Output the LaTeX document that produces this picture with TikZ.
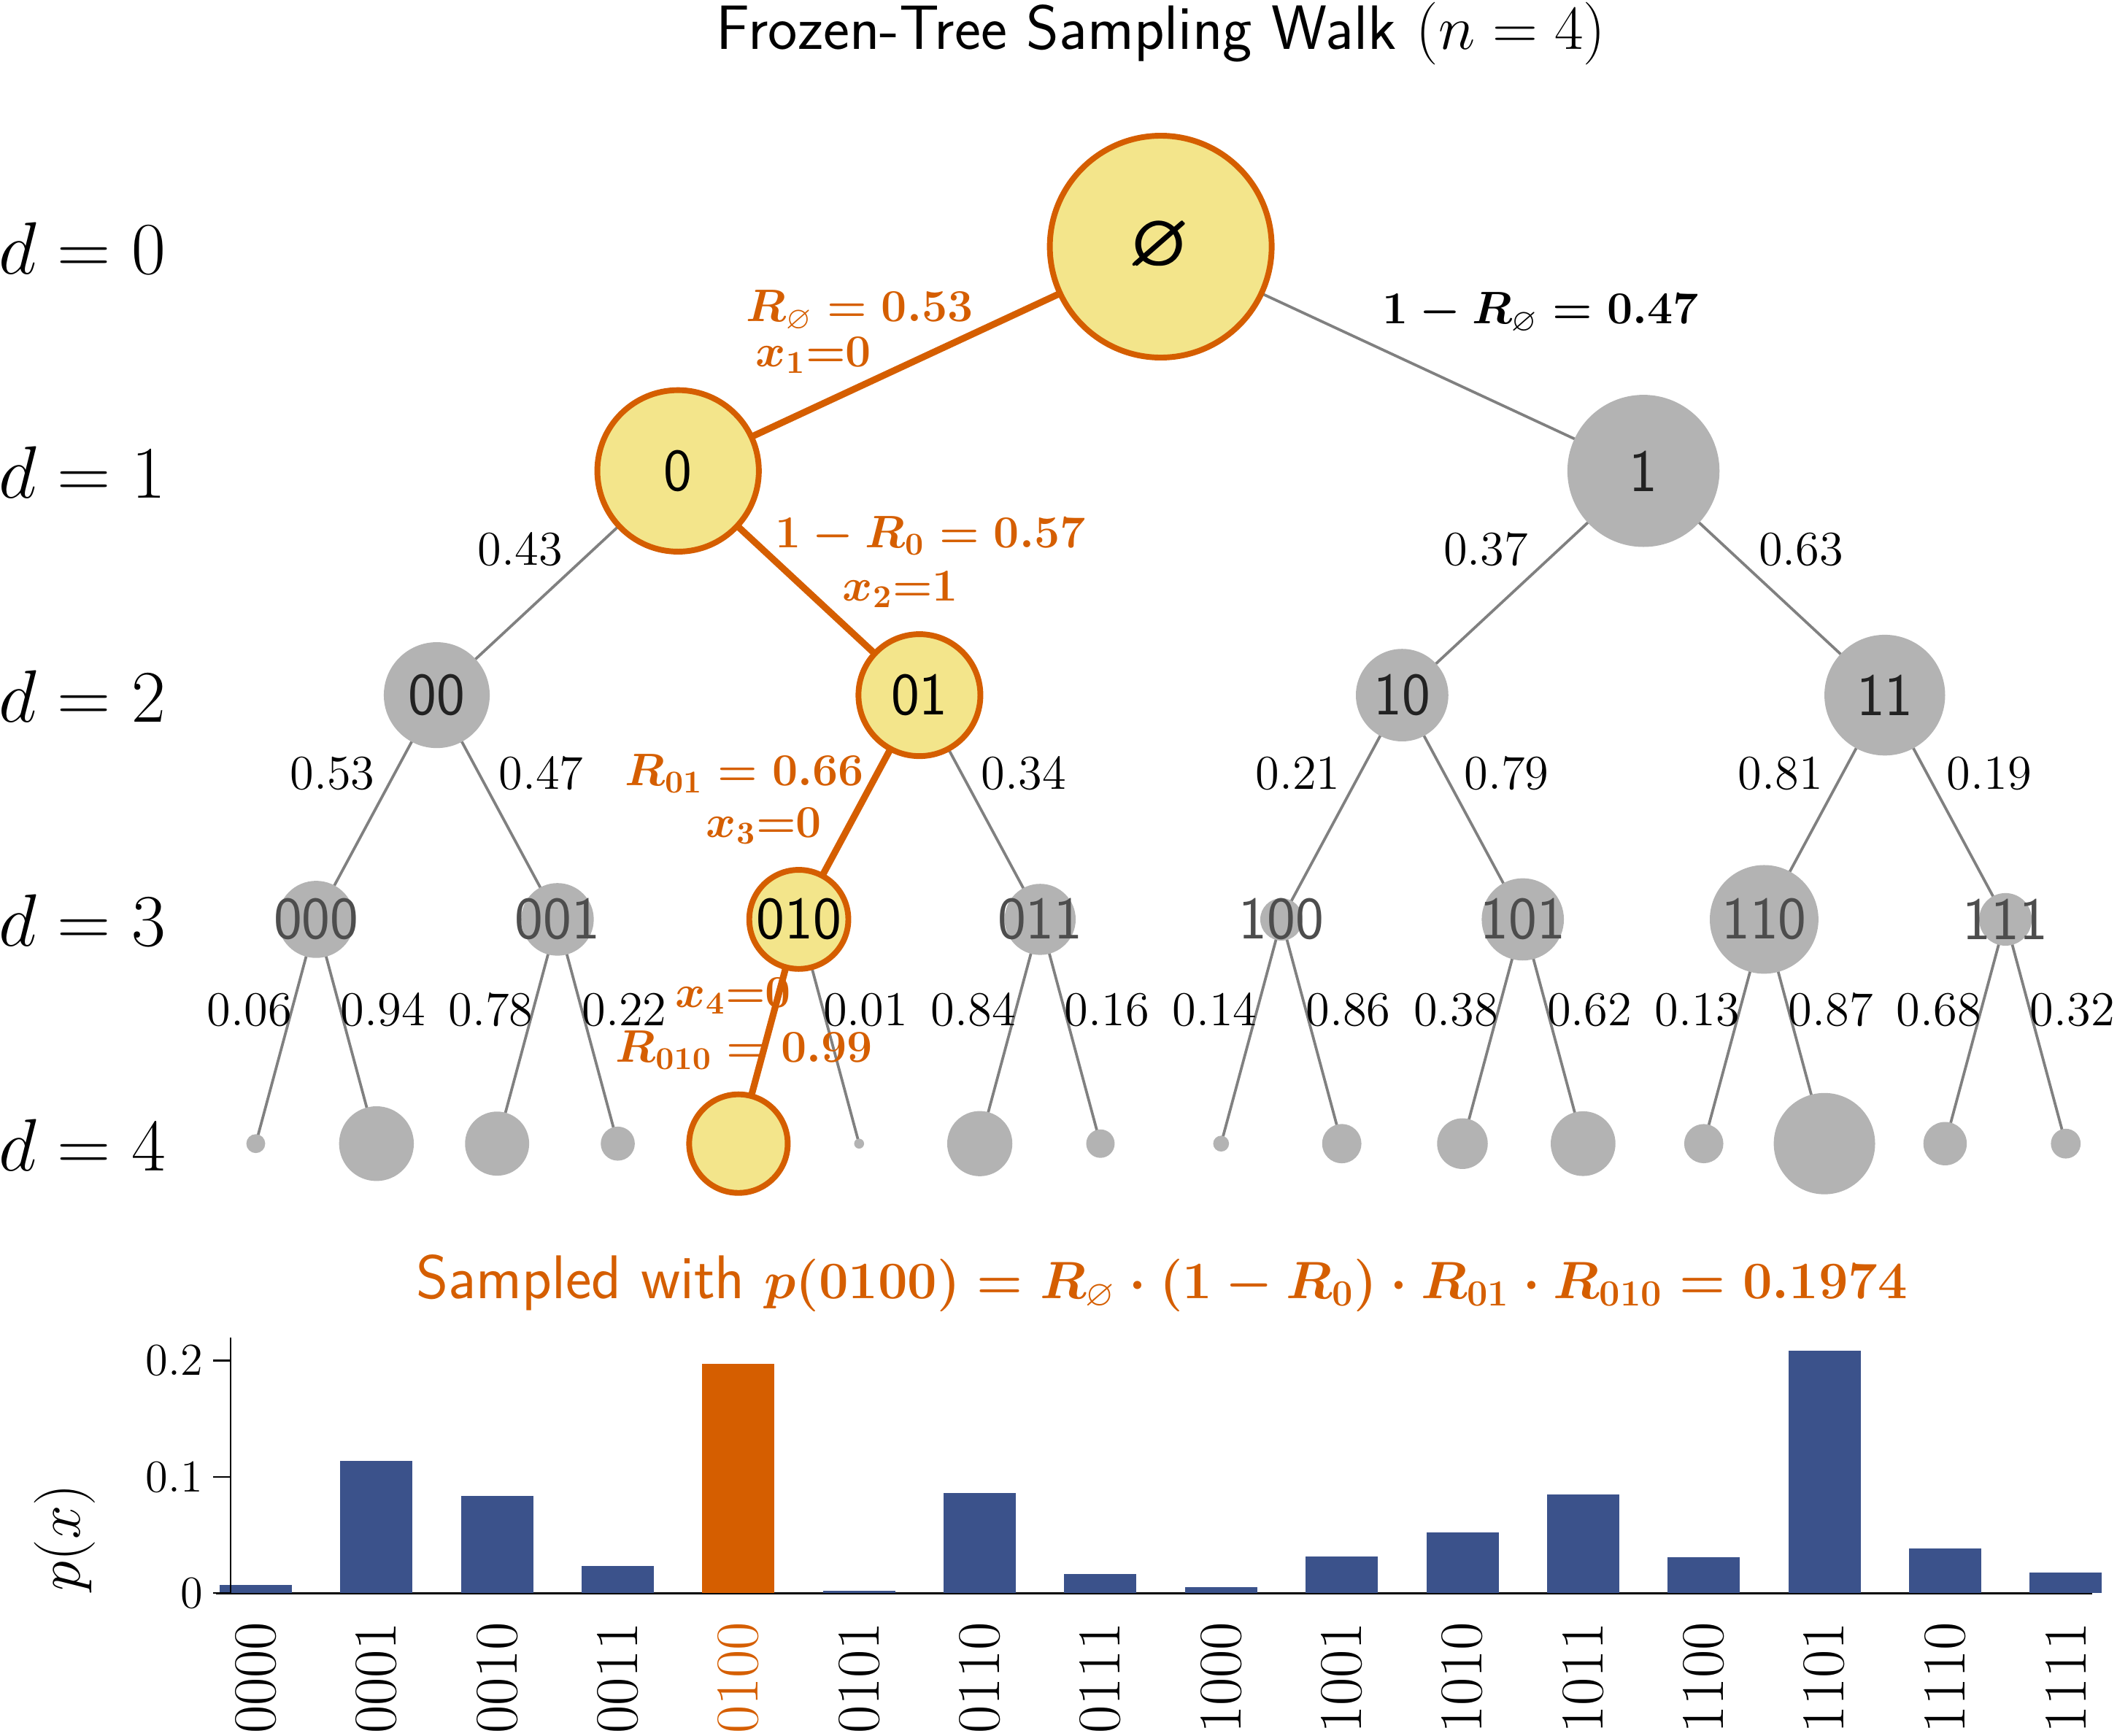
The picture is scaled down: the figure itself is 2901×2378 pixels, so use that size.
\RequirePackage{fix-cm}
\documentclass[tikz,border=0pt]{standalone}
\usepackage{amsmath}
\usepackage{amssymb}
\definecolor{porange}{HTML}{D55E00}
\definecolor{pyellow}{HTML}{F3E58B}
\definecolor{ngray}{HTML}{B3B3B3}
\definecolor{egray}{HTML}{808080}
\definecolor{barblue}{HTML}{3B528B}
\definecolor{lbldark}{HTML}{222222}
\definecolor{lblgray}{HTML}{4D4D4D}
\pgfdeclarelayer{edges}
\pgfsetlayers{edges,main}
\newcommand\fsz[1]{\fontsize{#1}{#1}\selectfont}
\newcommand\tnode[5]{%
  \pgfmathsetmacro\tmpd{2*152*sqrt(#4)*0.24}%
  \node[#5,minimum size=\tmpd pt] (#1) at (#2,#3) {};}
\tikzset{
  gnode/.style={circle,fill=ngray,inner sep=0pt,outer sep=0pt},
  pnode/.style={circle,fill=pyellow,draw=porange,line width=1.9pt,inner sep=0pt,outer sep=0pt},
  glabel/.style={inner sep=0pt,font=\fsz{19.8}\sffamily},
  elabel/.style={inner sep=0pt,font=\fsz{16}},
  olabel/.style={inner sep=0pt,text=porange,font=\fsz{15}\boldmath},
  blabel/.style={inner sep=0pt,text=black,font=\fsz{15}\boldmath},
  dlabel/.style={inner sep=0pt,font=\fsz{24.4}},
  gedge/.style={draw=egray,line width=0.9pt},
  pedge/.style={draw=porange,line width=2.2pt},
  xtick/.style={rotate=90,anchor=east,inner sep=0pt,font=\fsz{20}},
  ytick/.style={anchor=east,inner sep=0pt,font=\fsz{15}},
}
\begin{document}
\begin{tikzpicture}[x=0.24pt,y=-0.24pt]
\useasboundingbox (0,0) rectangle (2901,2378);
% ---------- title ----------
\node[anchor=base,inner sep=0pt,font=\fsz{20.6}\sffamily] (title) at (1591,68) {Frozen-Tree Sampling Walk $(n=4)$};
% ---------- depth labels ----------
\foreach \d in {0,...,4} {
  \node[dlabel,anchor=base west] (dl\d) at (-2,{338+307.3*\d+37}) {$d=\d$};
}
% ---------- tree nodes ----------
\tnode{r}{1590.6}{338}{1}{pnode}
\tnode{n0}{929.2}{645.3}{0.53}{pnode}
\tnode{n1}{2252.05}{645.3}{0.47}{gnode}
\tnode{n00}{598.5}{952.6}{0.2279}{gnode}
\tnode{n01}{1259.9}{952.6}{0.3021}{pnode}
\tnode{n10}{1921.35}{952.6}{0.1739}{gnode}
\tnode{n11}{2582.75}{952.6}{0.2961}{gnode}
\tnode{n000}{433.2}{1259.9}{0.120787}{gnode}
\tnode{n001}{763.9}{1259.9}{0.107113}{gnode}
\tnode{n010}{1094.6}{1259.9}{0.199386}{pnode}
\tnode{n011}{1425.3}{1259.9}{0.102714}{gnode}
\tnode{n100}{1756.0}{1259.9}{0.036519}{gnode}
\tnode{n101}{2086.7}{1259.9}{0.137381}{gnode}
\tnode{n110}{2417.4}{1259.9}{0.239841}{gnode}
\tnode{n111}{2748.1}{1259.9}{0.056259}{gnode}
\foreach \b/\p/\st [count=\i from 0] in {0000/0.007247/gnode,0001/0.11354/gnode,0010/0.08355/gnode,0011/0.023565/gnode,0100/0.19739/pnode,0101/0.001994/gnode,0110/0.08628/gnode,0111/0.016434/gnode,1000/0.005113/gnode,1001/0.031406/gnode,1010/0.052205/gnode,1011/0.085176/gnode,1100/0.031179/gnode,1101/0.208662/gnode,1110/0.038256/gnode,1111/0.018003/gnode} {
  \pgfmathsetmacro\xx{350.5+165.35*\i}
  \tnode{n\b}{\xx}{1567.2}{\p}{\st}
}
% ---------- edges ----------
\begin{pgfonlayer}{edges}
\draw[gedge] (r.center) -- (n1.center);
\draw[gedge] (n0.center) -- (n00.center);
\draw[gedge] (n1.center) -- (n10.center);
\draw[gedge] (n1.center) -- (n11.center);
\draw[gedge] (n00.center) -- (n000.center);
\draw[gedge] (n00.center) -- (n001.center);
\draw[gedge] (n01.center) -- (n011.center);
\draw[gedge] (n10.center) -- (n100.center);
\draw[gedge] (n10.center) -- (n101.center);
\draw[gedge] (n11.center) -- (n110.center);
\draw[gedge] (n11.center) -- (n111.center);
\foreach \pa/\ch in {000/0000,000/0001,001/0010,001/0011,010/0101,011/0110,011/0111,100/1000,100/1001,101/1010,101/1011,110/1100,110/1101,111/1110,111/1111} {
  \draw[gedge] (n\pa.center) -- (n\ch.center);
}
\draw[pedge] (r.center) -- (n0.center);
\draw[pedge] (n0.center) -- (n01.center);
\draw[pedge] (n01.center) -- (n010.center);
\draw[pedge] (n010.center) -- (n0100.center);
\end{pgfonlayer}
% ---------- node labels ----------
\node[glabel,font=\fsz{24.5}] (lr) at (r) {$\pmb{\varnothing}$};
\node[glabel] (l0) at (n0) {0};
\node[glabel,text=lbldark] (l1) at (n1) {1};
\node[glabel,text=lbldark] (l00) at (n00) {00};
\node[glabel] (l01) at (n01) {01};
\node[glabel,text=lbldark] (l10) at (n10) {10};
\node[glabel,text=lbldark] (l11) at (n11) {11};
\node[glabel,text=lblgray] (l000) at (n000) {000};
\node[glabel,text=lblgray] (l001) at (n001) {001};
\node[glabel] (l010) at (n010) {010};
\node[glabel,text=lblgray] (l011) at (n011) {011};
\node[glabel,text=lblgray] (l100) at (n100) {100};
\node[glabel,text=lblgray] (l101) at (n101) {101};
\node[glabel,text=lblgray] (l110) at (n110) {110};
\node[glabel,text=lblgray] (l111) at (n111) {111};
% ---------- edge labels ----------
\node[olabel] (e-r0a) at (1178,426) {$R_{\varnothing}=0.53$};
\node[olabel] (e-r0b) at (1115,487) {$x_1{=}0$};
\node[blabel] (e-r1) at (2111,429) {$1-R_{\varnothing}=0.47$};
\node[olabel] (e-01a) at (1275,734) {$1-R_{0}=0.57$};
\node[olabel] (e-01b) at (1234,808) {$x_2{=}1$};
\node[olabel] (e-010a) at (1020,1060) {$R_{01}=0.66$};
\node[olabel] (e-010b) at (1047,1132) {$x_3{=}0$};
\node[olabel] (e-0100b) at (1005,1365) {$x_4{=}0$};
\node[olabel] (e-0100a) at (1020,1439) {$R_{010}=0.99$};
\node[elabel] (e-00) at (713,753) {$0.43$};
\node[elabel] (e-10) at (2036,753) {$0.37$};
\node[elabel] (e-11) at (2468,753) {$0.63$};
\foreach \xx/\v [count=\k] in {455.5/0.53,741.5/0.47,1402.9/0.34,1778.4/0.21,2064.4/0.79,2439.8/0.81,2725.8/0.19} {
  \node[elabel] (e2-\k) at (\xx,1060) {$\v$};
}
\foreach \xx/\v [count=\k] in {341.7/0.06,524.7/0.94,672.4/0.78,855.4/0.22,1186.1/0.01,1333.8/0.84,1516.8/0.16,1664.5/0.14,1847.5/0.86,1995.2/0.38,2178.2/0.62,2325.9/0.13,2508.9/0.87,2656.6/0.68,2839.6/0.32} {
  \node[elabel] (e3-\k) at (\xx,1384) {$\v$};
}
% ---------- sampled line ----------
\node[anchor=base,inner sep=0pt,text=porange,font=\fsz{20.3}\sffamily] (sampled) at (1592,1779)
  {Sampled with {\fsz{17.3}\boldmath$p(0100)=R_{\varnothing}\cdot(1-R_0)\cdot R_{01}\cdot R_{010}=0.1974$}};
% ---------- bar chart ----------
\draw[line width=0.7pt] (296,2183.3) -- (2867,2183.3);
\foreach \b/\p/\c/\tc [count=\i from 0] in {0000/0.007247/barblue/black,0001/0.11354/barblue/black,0010/0.08355/barblue/black,0011/0.023565/barblue/black,0100/0.19739/porange/porange,0101/0.001994/barblue/black,0110/0.08628/barblue/black,0111/0.016434/barblue/black,1000/0.005113/barblue/black,1001/0.031406/barblue/black,1010/0.052205/barblue/black,1011/0.085176/barblue/black,1100/0.031179/barblue/black,1101/0.208662/barblue/black,1110/0.038256/barblue/black,1111/0.018003/barblue/black} {
  \pgfmathsetmacro\xx{350.5+165.35*\i}
  \pgfmathsetmacro\yy{2183.3-1594*\p}
  \fill[\c] ({\xx-49.5},2183.3) rectangle ({\xx+49.5},\yy);
  \node[xtick,text=\tc] (xt\b) at (\xx,2222) {\b};
}
\draw[line width=0.55pt] (316,1833) -- (316,2183.3);
\foreach \v/\yy [count=\k] in {0.2/1864.5,0.1/2023.9,0/2183.3} {
  \draw[line width=0.5pt] (292,\yy) -- (316,\yy);
  \node[ytick] (yt\k) at (279,\yy) {$\v$};
}
\node[rotate=90,inner sep=0pt,font=\fsz{20}] (ylab) at (89,2107) {$p(x)$};
\end{tikzpicture}
\end{document}
